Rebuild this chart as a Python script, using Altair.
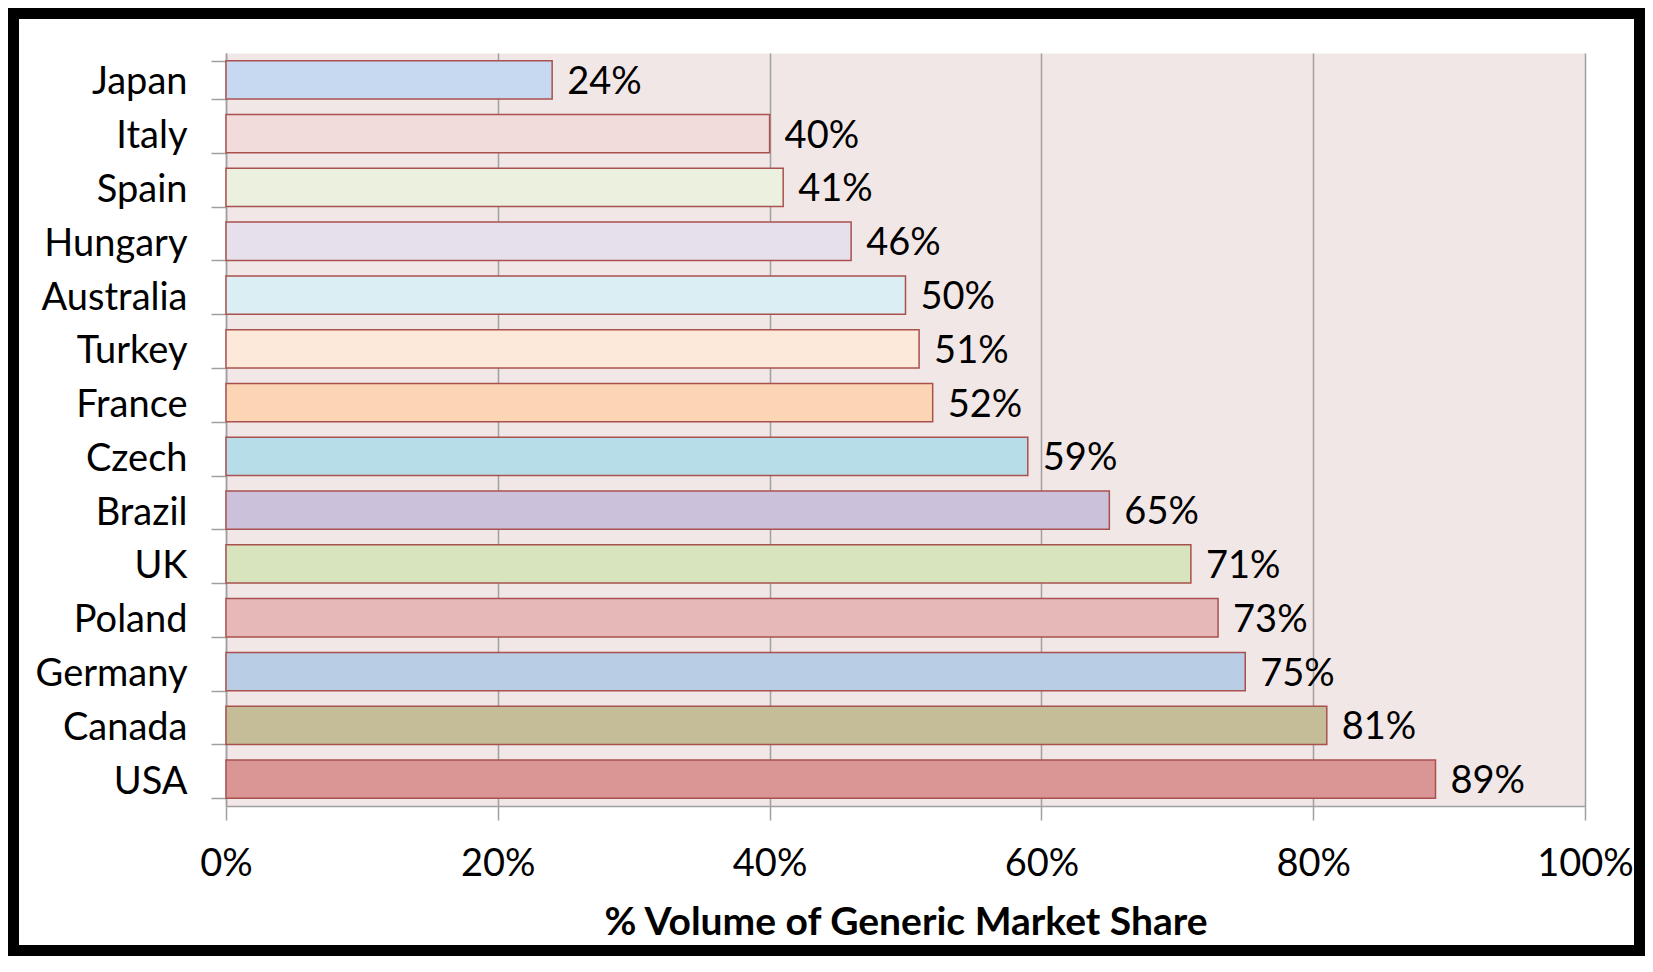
import altair as alt
import pandas as pd

countries = ["Japan", "Italy", "Spain", "Hungary", "Australia", "Turkey", "France",
             "Czech", "Brazil", "UK", "Poland", "Germany", "Canada", "USA"]
shares = [24, 40, 41, 46, 50, 51, 52, 59, 65, 71, 73, 75, 81, 89]
colors = ["#C6D9F1", "#F2DCDB", "#EBF1DE", "#E6E0EC", "#DBEEF4", "#FDE9D9", "#FCD5B5",
          "#B7DEE8", "#CCC1DA", "#D7E4BD", "#E6B9B8", "#B9CDE5", "#C4BD97", "#D99694"]
x_ticks = [0, 0.2, 0.4, 0.6, 0.8, 1.0]
x_title = "% Volume of Generic Market Share"

df = pd.DataFrame({
    "country": countries,
    "share": [s / 100 for s in shares],
    "label": [f"{s}%" for s in shares],
})

W, H = 1359, 753
PL, PT, PR, PB = 218, 45, 60, 150
FONT = "Lato"
FS = 38
GRID = "#A0A0A0"

y_enc = alt.Y(
    "country:N", sort=countries, title=None,
    scale=alt.Scale(paddingInner=0.288, paddingOuter=0.144),
    axis=alt.Axis(tickBand="extent", ticks=True, tickSize=15, tickColor=GRID, tickWidth=1.5,
                  domainColor=GRID, domainWidth=1.5, labelFont=FONT, labelFontSize=FS,
                  labelColor="black", labelPadding=24, labelOffset=3, grid=False),
)
x_enc = alt.X(
    "share:Q", scale=alt.Scale(domain=[0, 1], nice=False), title=x_title,
    axis=alt.Axis(values=x_ticks, format=".0%", grid=True, gridColor=GRID, gridWidth=1.5,
                  tickSize=14, tickColor=GRID, tickWidth=1.5, domainColor=GRID, domainWidth=1.5,
                  labelFont=FONT, labelFontSize=FS, labelColor="black", labelPadding=25,
                  labelFlush=False,
                  titleFont=FONT, titleFontSize=39, titleFontWeight="bold", titleColor="black",
                  titlePadding=20),
)

base = alt.Chart(df)
bars = base.mark_bar(stroke="#A9514F", strokeWidth=1.5).encode(
    x=x_enc, y=y_enc,
    color=alt.Color("country:N", scale=alt.Scale(domain=countries, range=colors), legend=None),
)
labels = base.mark_text(align="left", baseline="middle", dx=15, dy=3, font=FONT, fontSize=FS,
                        color="black").encode(x="share:Q", y=alt.Y("country:N", sort=countries),
                                              text="label:N")
frame = alt.Chart(pd.DataFrame({"f": [0]})).mark_rect(
    fillOpacity=0, stroke="black", strokeWidth=11
).encode(
    x=alt.value(-PL + 5.5), x2=alt.value(W + PR - 5.5),
    y=alt.value(-PT + 5.5), y2=alt.value(H + PB - 5.5),
)

chart = alt.layer(bars, labels, frame).properties(
    width=W, height=H,
    autosize=alt.AutoSizeParams(type="none"),
    padding={"left": PL, "top": PT, "right": PR, "bottom": PB},
    background="white",
).configure_view(fill="#F2E7E7", stroke="transparent")

chart.save("out.html", embed_options={"renderer": "svg", "actions": False})
